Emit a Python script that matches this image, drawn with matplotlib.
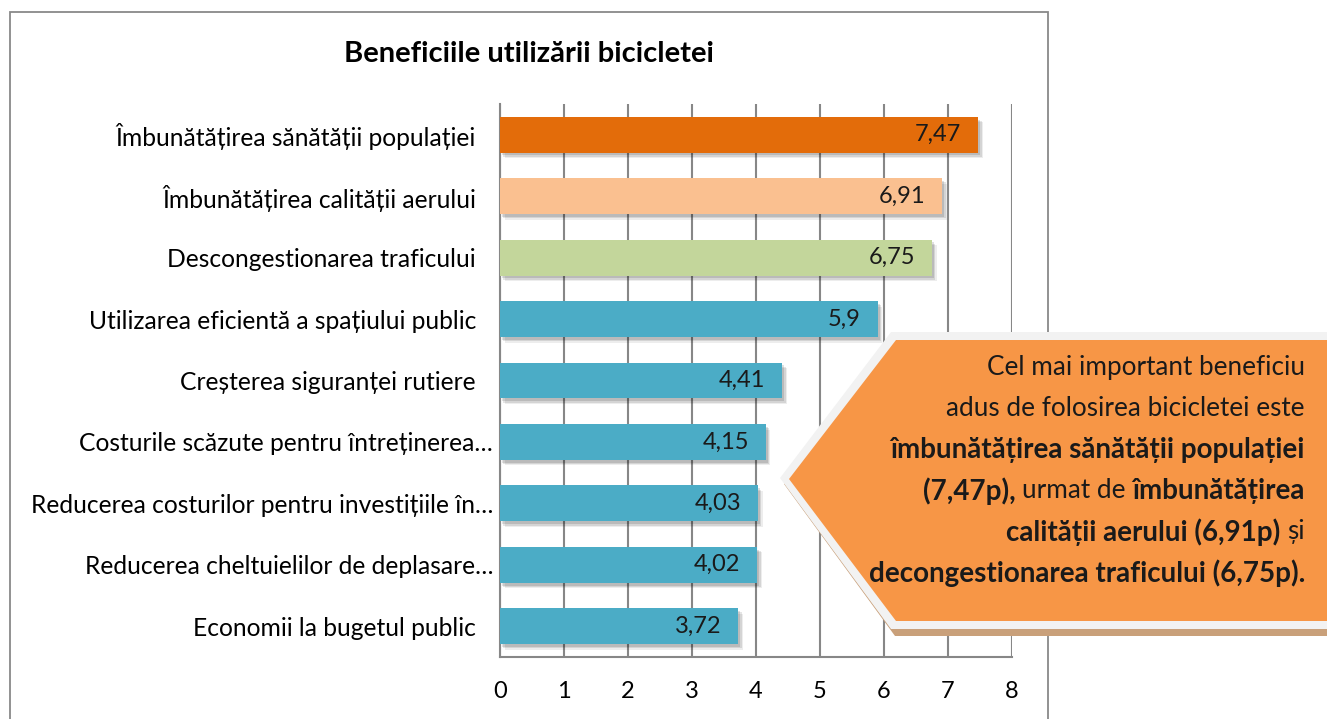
import matplotlib.pyplot as plt
import matplotlib.patheffects as pe
import matplotlib.transforms as mtrans
from matplotlib.patches import Polygon, Rectangle

plt.rcParams['font.family'] = ['Lato', 'DejaVu Sans']

# data
categories = [
    "Îmbunătățirea sănătății populației",
    "Îmbunătățirea calității aerului",
    "Descongestionarea traficului",
    "Utilizarea eficientă a spațiului public",
    "Creșterea siguranței rutiere",
    "Costurile scăzute pentru întreținerea…",
    "Reducerea costurilor pentru investițiile în…",
    "Reducerea cheltuielilor de deplasare…",
    "Economii la bugetul public",
]
values = [7.47, 6.91, 6.75, 5.9, 4.41, 4.15, 4.03, 4.02, 3.72]
bar_colors = ['#E36C0A', '#FAC090', '#C3D69B', '#4BACC6', '#4BACC6',
              '#4BACC6', '#4BACC6', '#4BACC6', '#4BACC6']
xticks = [0, 1, 2, 3, 4, 5, 6, 7, 8]
title = "Beneficiile utilizării bicicletei"

W, H = 1327, 719
fig = plt.figure(figsize=(W / 100, H / 100), dpi=100)
fig.patch.set_facecolor('white')


def fx(px):
    return px / W


def fy(py):
    return 1 - py / H


# outer chart frame
fig.patches.append(Rectangle((fx(10), fy(730)), fx(1048) - fx(10), fy(12) - fy(730),
                             transform=fig.transFigure, fill=False,
                             edgecolor='#898989', lw=1.3, zorder=0))

ax = fig.add_axes([fx(500), fy(657), fx(1012) - fx(500), fy(104) - fy(657)])
ypos = list(range(len(categories)))

shadow = [pe.SimplePatchShadow(offset=(3.5, -4), shadow_rgbFace='#000000', alpha=0.07),
          pe.SimplePatchShadow(offset=(2.5, -3), shadow_rgbFace='#000000', alpha=0.1),
          pe.SimplePatchShadow(offset=(1.5, -2), shadow_rgbFace='#000000', alpha=0.12),
          pe.Normal()]
bars = ax.barh(ypos, values, height=0.585, color=bar_colors, zorder=3)
for b in bars:
    b.set_path_effects(shadow)

for y, v in zip(ypos, values):
    ax.annotate(str(v).replace('.', ','), xy=(v, y), xytext=(-12, 0),
                textcoords='offset points', ha='right', va='center',
                fontsize=17, color='#1a1a1a', zorder=4)

ax.set_xlim(0, 8)
ax.set_ylim(len(categories) - 0.5, -0.5)
ax.set_xticks(xticks)
ax.set_xticklabels([str(t) for t in xticks], fontsize=17)
ax.set_yticks(ypos)
ax.set_yticklabels(categories, fontsize=17.7)
ax.tick_params(axis='x', length=0, pad=17)
ax.tick_params(axis='y', length=0, pad=5)
ax.xaxis.grid(True, color='#878787', lw=1.5, zorder=1)
ax.set_axisbelow(True)
for s in ['top', 'right']:
    ax.spines[s].set_visible(False)
for s in ['left', 'bottom']:
    ax.spines[s].set_color('#878787')
    ax.spines[s].set_linewidth(1.5)

# labels without the ellipsis sit a bit further from the axis
for lab in ax.get_yticklabels():
    if not lab.get_text().endswith('…'):
        lab.set_transform(lab.get_transform() +
                          mtrans.ScaledTranslation(-17 / 100, 0, fig.dpi_scale_trans))

fig.text(fx(529), fy(54), title, ha='center', va='center',
         fontsize=21, fontweight='bold')

# callout arrow
outer = [(780, 478), (891, 332), (1340, 332), (1340, 629), (891, 629)]
shadow_pts = [(784, 484), (895, 336), (1340, 336), (1340, 636), (895, 636)]
inner = [(789, 479), (896, 340), (1340, 340), (1340, 621), (896, 621)]
fig.patches.append(Polygon([(fx(x), fy(y)) for x, y in shadow_pts], closed=True,
                           transform=fig.transFigure, facecolor='#C9A07A',
                           edgecolor='none', zorder=5))
fig.patches.append(Polygon([(fx(x), fy(y)) for x, y in outer], closed=True,
                           transform=fig.transFigure, facecolor='#F2F2F2',
                           edgecolor='none', zorder=6))
fig.patches.append(Polygon([(fx(x), fy(y)) for x, y in inner], closed=True,
                           transform=fig.transFigure, facecolor='#F79646',
                           edgecolor='none', zorder=7))

callout_lines = [
    [("Cel mai important beneficiu", 'normal')],
    [("adus de folosirea bicicletei este", 'normal')],
    [("îmbunătățirea sănătății populației", 'bold')],
    [("(7,47p),", 'bold'), ("urmat de", 'normal'), ("îmbunătățirea", 'bold')],
    [("calității aerului (6,91p)", 'bold'), ("și", 'normal')],
    [("decongestionarea traficului (6,75p).", 'bold')],
]
line_y = [368, 409, 450, 491, 532, 573]
fs_size = {'normal': 18.8, 'bold': 20.0}
renderer = fig.canvas.get_renderer()
probe = fig.text(0, 0, "x x", fontsize=fs_size['normal'])
w2 = probe.get_window_extent(renderer).width
probe.set_text("xx")
space_w = w2 - probe.get_window_extent(renderer).width
probe.remove()

for parts, yy in zip(callout_lines, line_y):
    right = 1305
    for text, weight in reversed(parts):
        t = fig.text(fx(right), fy(yy), text, ha='right', va='center',
                     fontsize=fs_size[weight], fontweight=weight, color='#1a1a1a',
                     zorder=8)
        right -= t.get_window_extent(renderer).width + space_w

fig.savefig('out.png', dpi=100)
